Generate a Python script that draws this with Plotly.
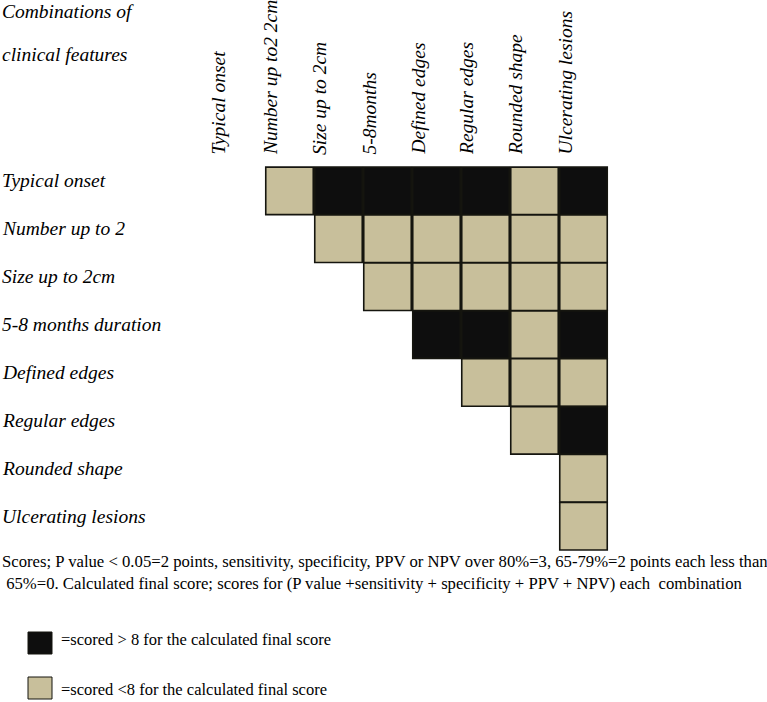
import plotly.graph_objects as go

# ---- data ----
title_lines = ["Combinations of", "clinical features"]
column_labels = ["Typical onset", "Number up to2 2cm", "Size up to 2cm", "5-8months",
                 "Defined edges", "Regular edges", "Rounded shape", "Ulcerating lesions"]
row_labels = ["Typical onset", "Number up to 2", "Size up to 2cm", "5-8 months duration",
              "Defined edges", "Regular edges", "Rounded shape", "Ulcerating lesions"]
# 1 = scored > 8 (black), 0 = scored < 8 (tan), None = no cell
scores = [
    [None, 0, 1, 1, 1, 1, 0, 1],
    [None, None, 0, 0, 0, 0, 0, 0],
    [None, None, None, 0, 0, 0, 0, 0],
    [None, None, None, None, 1, 1, 0, 1],
    [None, None, None, None, None, 0, 0, 0],
    [None, None, None, None, None, None, 0, 1],
    [None, None, None, None, None, None, None, 0],
    [None, None, None, None, None, None, None, 0],
]
note_text = ("Scores; P value &lt; 0.05=2 points, sensitivity, specificity, PPV or NPV over 80%=3, 65-79%=2 points each less than<br>"
             " 65%=0. Calculated final score; scores for (P value +sensitivity + specificity + PPV + NPV) each  combination")
legend_labels = ["=scored &gt; 8 for the calculated final score", "=scored &lt;8 for the calculated final score"]

BLACK = "#0e0e0e"
TAN = "#c8bf9b"
EDGE = "#15150f"
FONT = "Liberation Serif"
LBL = 19.5

W, H = 767, 702
CW, RH = 49.0, 47.9
X0PIX, Y0PIX = 240.5, 190.9

xs, ys, cols = [], [], []
for r, row in enumerate(scores):
    for c, v in enumerate(row):
        if v is None:
            continue
        xs.append(c)
        ys.append(r)
        cols.append(BLACK if v == 1 else TAN)

fig = go.Figure()
fig.add_trace(go.Scatter(
    x=xs, y=ys, mode="markers",
    marker=dict(symbol="square", size=47.5, color=cols, line=dict(color=EDGE, width=1.6)),
    hoverinfo="skip", showlegend=False,
))

x0 = -X0PIX / CW
y0 = -Y0PIX / RH
fig.update_xaxes(range=[x0, x0 + W / CW], visible=False, fixedrange=True)
fig.update_yaxes(range=[y0 + H / RH, y0], visible=False, fixedrange=True)

ann = []
# title
for i, t in enumerate(title_lines):
    ann.append(dict(text=t, xref="paper", yref="paper", x=0.0, y=1 - (11 + 44 * i) / H,
                    xanchor="left", yanchor="middle", showarrow=False,
                    font=dict(family=FONT, size=LBL, color="black", style="italic")))
# row labels
for r, t in enumerate(row_labels):
    ann.append(dict(text=t, xref="paper", yref="y", x=0.0, y=r, yshift=10,
                    xanchor="left", yanchor="middle", showarrow=False,
                    font=dict(family=FONT, size=LBL, color="black", style="italic")))
# column labels
for c, t in enumerate(column_labels):
    ann.append(dict(text=t, xref="x", yref="paper", x=c, xshift=-19 if c else -23,
                    y=1 - 157 / H, xanchor="center", yanchor="bottom", textangle=-90,
                    showarrow=False,
                    font=dict(family=FONT, size=LBL, color="black", style="italic")))
# note
ann.append(dict(text=note_text, xref="paper", yref="paper", x=0.0, y=1 - 572 / H,
                xanchor="left", yanchor="middle", align="left", showarrow=False,
                font=dict(family=FONT, size=16.7, color="black")))
# legend
leg_y = [639, 689]
leg_fill = [BLACK, TAN]
shapes = []
for i in range(2):
    cy = 643 + 45 * i
    shapes.append(dict(type="rect", xref="paper", yref="paper",
                       x0=28 / W, x1=52 / W, y0=1 - (cy - 11) / H, y1=1 - (cy + 11) / H,
                       fillcolor=leg_fill[i], line=dict(color=EDGE, width=1)))
    ann.append(dict(text=legend_labels[i], xref="paper", yref="paper", x=59 / W,
                    y=1 - leg_y[i] / H, xanchor="left", yanchor="middle", showarrow=False,
                    font=dict(family=FONT, size=16.5, color="black")))

fig.update_layout(
    width=W, height=H, margin=dict(l=0, r=0, t=0, b=0),
    paper_bgcolor="white", plot_bgcolor="white",
    annotations=ann, shapes=shapes, showlegend=False,
)
fig.write_html("out.html", config={"displayModeBar": False},
               post_script="document.body.style.margin='0';document.body.style.overflow='hidden';")
